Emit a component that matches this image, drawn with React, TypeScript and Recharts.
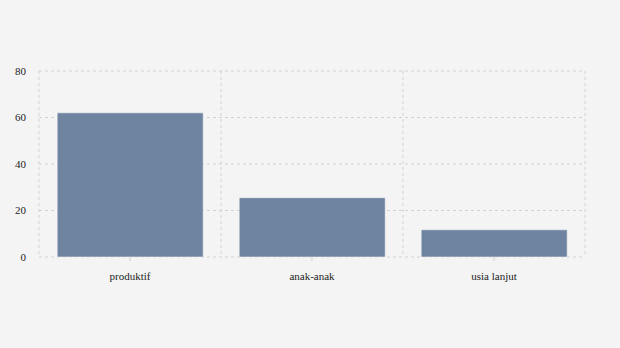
import React from "react";
import { BarChart, Bar, XAxis, YAxis, CartesianGrid } from "recharts";

const categories = ["produktif", "anak-anak", "usia lanjut"];
const values = [62, 25.5, 11.7];
const yTicks = [0, 20, 40, 60, 80];

const data = categories.map((name, i) => ({ name, value: values[i] }));

const font = "Times New Roman, Liberation Serif, DejaVu Serif, serif";

const XTick = (props: any) => {
  const { x, y, payload } = props;
  return (
    <text x={x} y={y} dy="0.71em" textAnchor="middle" fill="#222" fontSize={11} style={{ fontFamily: font }}>
      {payload.value}
    </text>
  );
};

const YTick = (props: any) => {
  const { x, y, payload } = props;
  return (
    <text x={x} y={y} dy="0.355em" textAnchor="end" fill="#222" fontSize={11} style={{ fontFamily: font }}>
      {payload.value}
    </text>
  );
};

export default function App() {
  return (
    <div style={{ position: "fixed", left: 0, top: 0, width: 620, height: 348, background: "#f4f4f4", fontFamily: font }}>
      <BarChart
        width={620}
        height={348}
        data={data}
        margin={{ top: 71, right: 35, bottom: 0, left: 0 }}
        barCategoryGap="10%"
      >
        <CartesianGrid
          stroke="#d2d2d2"
          strokeDasharray="3 3"
          verticalCoordinatesGenerator={({ offset }: any) =>
            [0, 1, 2, 3].map((i) => offset.left + (offset.width * i) / categories.length)
          }
        />
        <XAxis
          dataKey="name"
          height={91}
          axisLine={false}
          tickSize={4}
          tickMargin={11}
          tickLine={{ stroke: "#d2d2d2" }}
          tick={<XTick />}
        />
        <YAxis
          width={39}
          domain={[0, 80]}
          ticks={yTicks}
          axisLine={false}
          tickLine={false}
          tickMargin={7}
          tick={<YTick />}
        />
        <Bar dataKey="value" fill="#6e84a0" stroke="#ffffff" strokeOpacity={0.5} isAnimationActive={false} />
      </BarChart>
    </div>
  );
}
